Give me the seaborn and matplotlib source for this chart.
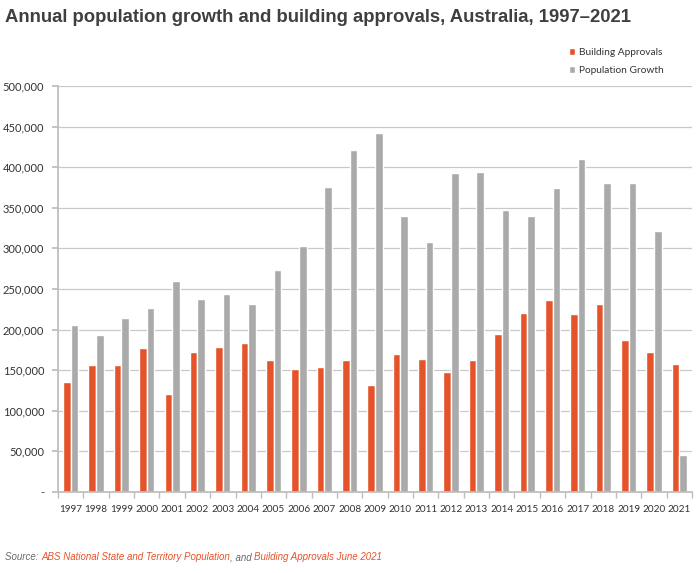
import matplotlib
matplotlib.use("Agg")
import matplotlib.pyplot as plt
import seaborn as sns
import pandas as pd
from matplotlib.ticker import FuncFormatter, MultipleLocator, FixedLocator

years = [str(y) for y in range(1997, 2022)]
building_approvals = [136000, 156000, 157000, 177000, 121000, 173000, 179000, 184000,
                      163000, 152000, 153500, 162500, 132000, 170000, 163500, 148000,
                      162500, 194000, 221000, 237000, 219500, 231500, 187500, 172500, 158000]
population_growth = [206000, 193000, 214000, 227000, 259500, 237500, 243500, 231500,
                     274000, 302500, 376000, 421000, 442000, 339500, 307500, 393000,
                     394000, 347000, 340000, 374500, 410500, 380500, 381000, 321000, 45500]
series_names = ["Building Approvals", "Population Growth"]
colors = ["#E5532B", "#AAAAAA"]

df = pd.DataFrame({
    "Year": years * 2,
    "Value": building_approvals + population_growth,
    "Series": [series_names[0]] * len(years) + [series_names[1]] * len(years),
})

sns.set_theme(style="white")
plt.rcParams["font.family"] = ["Lato", "DejaVu Sans"]

fig = plt.figure(figsize=(7.0, 5.73), dpi=100)
ax = fig.add_axes([58 / 700, 1 - 492 / 573, (692 - 58) / 700, (492 - 86) / 573])

sns.barplot(data=df, x="Year", y="Value", hue="Series", order=years,
            hue_order=series_names, palette=colors, width=0.6, ax=ax,
            saturation=1, dodge=True, gap=0, legend=True)

ax.set_ylim(0, 500000)
ax.set_xlim(-0.5, len(years) - 0.5)
ax.yaxis.set_major_locator(MultipleLocator(50000))
ax.yaxis.set_major_formatter(FuncFormatter(lambda v, p: "-" if v == 0 else f"{int(v):,}"))
ax.grid(axis="y", color="#c9c9c9", linewidth=0.9)
ax.set_axisbelow(True)
for s in ["top", "right"]:
    ax.spines[s].set_visible(False)
ax.spines["left"].set_color("#bdbdbd")
ax.spines["bottom"].set_color("#bdbdbd")
ax.set_xlabel("")
ax.set_ylabel("")
ax.tick_params(axis="y", which="major", left=True, length=4, color="#bdbdbd",
               labelsize=8, labelcolor="#333333", pad=6)
ax.tick_params(axis="x", which="major", bottom=False, labelsize=7.2,
               labelcolor="#333333", pad=3)
ax.xaxis.set_minor_locator(FixedLocator([i - 0.5 for i in range(len(years) + 1)]))
ax.tick_params(axis="x", which="minor", bottom=True, length=4, color="#bdbdbd")

handles, labels = ax.get_legend_handles_labels()
ax.legend(handles, labels, loc="upper left", bbox_to_anchor=(560 / 700, 1 - 39 / 573),
          bbox_transform=fig.transFigure, frameon=False, fontsize=7.3,
          handlelength=0.6, handleheight=0.6, handletextpad=0.4, labelspacing=0.9,
          labelcolor="#333333")

fig.text(5 / 700, 1 - 18 / 573, "Annual population growth and building approvals, Australia, 1997\u20132021",
         fontsize=13.3, fontweight="bold", color="#3f3f3f", family="Liberation Sans",
         va="center", ha="left")

# source line, pieces placed side by side on a shared baseline
renderer = fig.canvas.get_renderer()
pieces = [("Source: ", "#6b6b6b"),
          ("ABS National State and Territory Population", "#E5532B"),
          (", and ", "#6b6b6b"),
          ("Building Approvals June 2021", "#E5532B")]
x = 5
y = 1 - 560 / 573
for txt, col in pieces:
    t = fig.text(x / 700, y, txt, color=col, fontsize=7, style="italic",
                 family="Liberation Sans", va="baseline", ha="left")
    bb = t.get_window_extent(renderer=renderer)
    x = bb.x1

fig.savefig("out.png", dpi=100, facecolor="white")
